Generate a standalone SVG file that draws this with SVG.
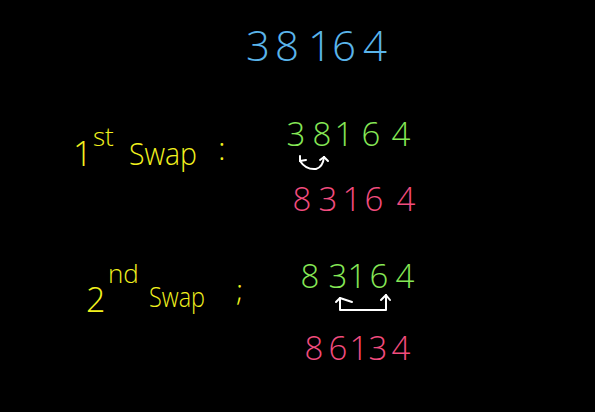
<svg xmlns="http://www.w3.org/2000/svg" width="595" height="412" viewBox="0 0 595 412">
<style>
.t{font-family:"Open Sans","Liberation Sans",sans-serif;font-weight:300}
.blue{fill:#5ab4ea}
.yel{fill:#f2f21e}
.grn{fill:#86e856}
.pnk{fill:#f24c7e}
.ar{fill:none;stroke:#ffffff;stroke-width:2;stroke-linecap:round;stroke-linejoin:round}
</style>
<rect width="595" height="412" fill="#000000"/>
<g id="top" class="t blue" font-size="42">
<text x="258" y="61" text-anchor="middle">3</text>
<text x="287" y="61" text-anchor="middle">8</text>
<text x="320" y="61" text-anchor="middle">1</text>
<text x="344" y="61" text-anchor="middle">6</text>
<text x="375" y="61" text-anchor="middle">4</text>
</g>
<g id="label1" class="t yel">
<text x="73" y="166" font-size="34">1</text>
<text x="93" y="146" font-size="26">st</text>
<text x="129" y="165" font-size="31" textLength="68" lengthAdjust="spacingAndGlyphs">Swap</text>
<text x="218" y="160" font-size="32">:</text>
</g>
<g id="row1a" class="t grn" font-size="33">
<text x="296" y="146" text-anchor="middle">3</text>
<text x="322" y="146" text-anchor="middle">8</text>
<text x="344" y="146" text-anchor="middle">1</text>
<text x="371" y="146" text-anchor="middle">6</text>
<text x="401" y="146" text-anchor="middle">4</text>
</g>
<g id="row1b" class="t pnk" font-size="33">
<text x="302" y="211" text-anchor="middle">8</text>
<text x="328" y="211" text-anchor="middle">3</text>
<text x="352" y="211" text-anchor="middle">1</text>
<text x="374" y="211" text-anchor="middle">6</text>
<text x="406" y="211" text-anchor="middle">4</text>
</g>
<g id="label2" class="t yel">
<text x="86" y="312" font-size="34">2</text>
<text x="108" y="283" font-size="26">nd</text>
<text x="149" y="307" font-size="28" textLength="56" lengthAdjust="spacingAndGlyphs">Swap</text>
<text x="236" y="301" font-size="30">;</text>
</g>
<g id="row2a" class="t grn" font-size="33">
<text x="310" y="288" text-anchor="middle">8</text>
<text x="338" y="288" text-anchor="middle">3</text>
<text x="357" y="288" text-anchor="middle">1</text>
<text x="379" y="288" text-anchor="middle">6</text>
<text x="405" y="288" text-anchor="middle">4</text>
</g>
<g id="row2b" class="t pnk" font-size="33">
<text x="314" y="360" text-anchor="middle">8</text>
<text x="338" y="360" text-anchor="middle">6</text>
<text x="359" y="360" text-anchor="middle">1</text>
<text x="378" y="360" text-anchor="middle">3</text>
<text x="401" y="360" text-anchor="middle">4</text>
</g>
<g id="connectors">
<path class="ar" d="M300 161 Q306 170 316 169 Q323 167 324 157"/>
<path class="ar" d="M300 161 L300 156 M300 161 L306 160"/>
<path class="ar" d="M324 157 L320 160 M324 157 L328 161"/>
<path class="ar" d="M340 310 L386 310 M340 310 L340 298 M386 310 L386 295"/>
<path class="ar" d="M340 298 L336 302 M340 298 L352 302"/>
<path class="ar" d="M386 295 L381 300 M386 295 L390 300"/>
</g>
</svg>
